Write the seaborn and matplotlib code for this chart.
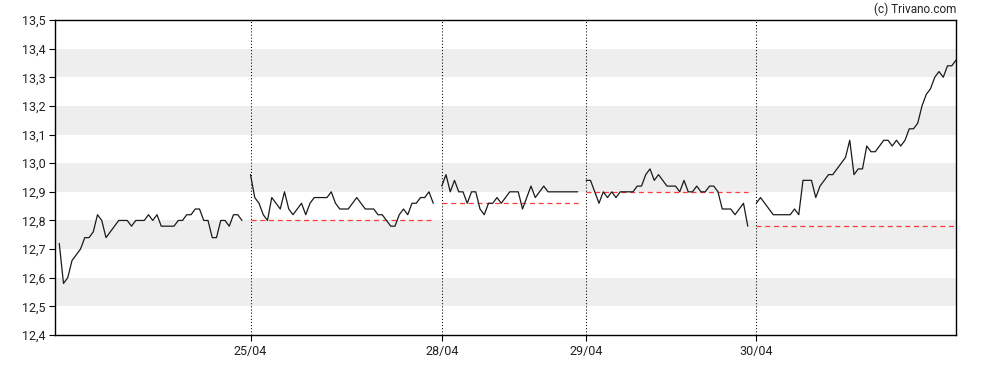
import pandas as pd
import numpy as np
import seaborn as sns
import matplotlib
matplotlib.use("Agg")
import matplotlib.pyplot as plt

# intraday prices per session (one point every few minutes)
s1 = [12.72, 12.58, 12.60, 12.66, 12.68, 12.70, 12.74, 12.74, 12.76, 12.82, 12.80,
      12.74, 12.76, 12.78, 12.80, 12.80, 12.80, 12.78, 12.80, 12.80, 12.80, 12.82,
      12.80, 12.82, 12.78, 12.78, 12.78, 12.78, 12.80, 12.80, 12.82, 12.82, 12.84,
      12.84, 12.80, 12.80, 12.74, 12.74, 12.80, 12.80, 12.78, 12.82, 12.82, 12.80]
s2 = [12.96, 12.88, 12.86, 12.82, 12.80, 12.88, 12.86, 12.84, 12.90, 12.84, 12.82,
      12.84, 12.86, 12.82, 12.86, 12.88, 12.88, 12.88, 12.88, 12.90, 12.86, 12.84,
      12.84, 12.84, 12.86, 12.88, 12.86, 12.84, 12.84, 12.84, 12.82, 12.82, 12.80,
      12.78, 12.78, 12.82, 12.84, 12.82, 12.86, 12.86, 12.88, 12.88, 12.90, 12.86]
s3 = [12.92, 12.96, 12.90, 12.94, 12.90, 12.90, 12.86, 12.90, 12.90, 12.84, 12.82,
      12.86, 12.86, 12.88, 12.86, 12.88, 12.90, 12.90, 12.90, 12.84, 12.88, 12.92,
      12.88, 12.90, 12.92, 12.90, 12.90, 12.90, 12.90, 12.90, 12.90, 12.90, 12.90]
s4 = [12.94, 12.94, 12.90, 12.86, 12.90, 12.88, 12.90, 12.88, 12.90, 12.90, 12.90,
      12.90, 12.92, 12.92, 12.96, 12.98, 12.94, 12.96, 12.94, 12.92, 12.92, 12.92,
      12.90, 12.94, 12.90, 12.90, 12.92, 12.90, 12.90, 12.92, 12.92, 12.90, 12.84,
      12.84, 12.84, 12.82, 12.84, 12.86, 12.78]
s5 = [12.86, 12.88, 12.86, 12.84, 12.82, 12.82, 12.82, 12.82, 12.82, 12.84, 12.82,
      12.94, 12.94, 12.94, 12.88, 12.92, 12.94, 12.96, 12.96, 12.98, 13.00, 13.02,
      13.08, 12.96, 12.98, 12.98, 13.06, 13.04, 13.04, 13.06, 13.08, 13.08, 13.06,
      13.08, 13.06, 13.08, 13.12, 13.12, 13.14, 13.20, 13.24, 13.26, 13.30, 13.32,
      13.30, 13.34, 13.34, 13.36]
sessions = [s1, s2, s3, s4, s5]
day_labels = ["25/04", "28/04", "29/04", "30/04"]
prev_close = [12.80, 12.86, 12.90, 12.78]   # red dashed reference per day
y_ticks = [12.4, 12.5, 12.6, 12.7, 12.8, 12.9, 13.0, 13.1, 13.2, 13.3, 13.4, 13.5]

# build long table, one empty slot between sessions
rows = []
starts = []
pos = 0
for k, sess in enumerate(sessions):
    starts.append(pos)
    for v in sess:
        rows.append({"idx": pos, "price": v, "session": k})
        pos += 1
    pos += 1
df = pd.DataFrame(rows)

ref_rows = []
for k, lvl in enumerate(prev_close):
    sub = df[df.session == k + 1]
    ref_rows.append({"idx": sub.idx.min(), "price": lvl, "session": k})
    ref_rows.append({"idx": sub.idx.max(), "price": lvl, "session": k})
ref = pd.DataFrame(ref_rows)

sns.set_style("white")
plt.rcParams["font.family"] = ["Roboto", "DejaVu Sans"]

fig = plt.figure(figsize=(9.88, 3.7), dpi=100)
ax = fig.add_axes([55 / 988, 1 - 335 / 370, 901 / 988, 315 / 370])

# alternating grey bands
for lo in [12.5, 12.7, 12.9, 13.1, 13.3]:
    ax.axhspan(lo, lo + 0.1, color="#eeeeee", lw=0, zorder=0)

for b in starts[1:]:
    ax.axvline(b, color="black", lw=0.75, ls=(0, (1, 2)), zorder=1)

sns.lineplot(data=ref, x="idx", y="price", units="session", estimator=None,
             color="#ff3b3b", lw=0.9, ax=ax, zorder=2, dashes=False)
for ln in ax.lines[-len(prev_close):]:
    ln.set_linestyle((0, (4, 3)))

sns.lineplot(data=df, x="idx", y="price", units="session", estimator=None,
             color="#1a1a1a", lw=0.9, ax=ax, zorder=3)

ax.set_xlim(-1, df.idx.max())
ax.set_ylim(12.4, 13.5)
ax.set_xticks(starts[1:])
ax.set_xticklabels(day_labels)
ax.set_yticks(y_ticks)
ax.set_yticklabels([f"{t:.1f}".replace(".", ",") for t in y_ticks])
ax.set_xlabel("")
ax.set_ylabel("")
ax.tick_params(axis="both", length=4, width=0.8, color="black",
               labelsize=9, labelcolor="#222222", pad=3, bottom=True, left=True)
for sp in ax.spines.values():
    sp.set_color("black")
    sp.set_linewidth(1.0)

fig.text(956 / 988, 1 - 9 / 370, "(c) Trivano.com", ha="right", va="center",
         fontsize=8.5, color="#222222")

fig.savefig("out.png", dpi=100)
